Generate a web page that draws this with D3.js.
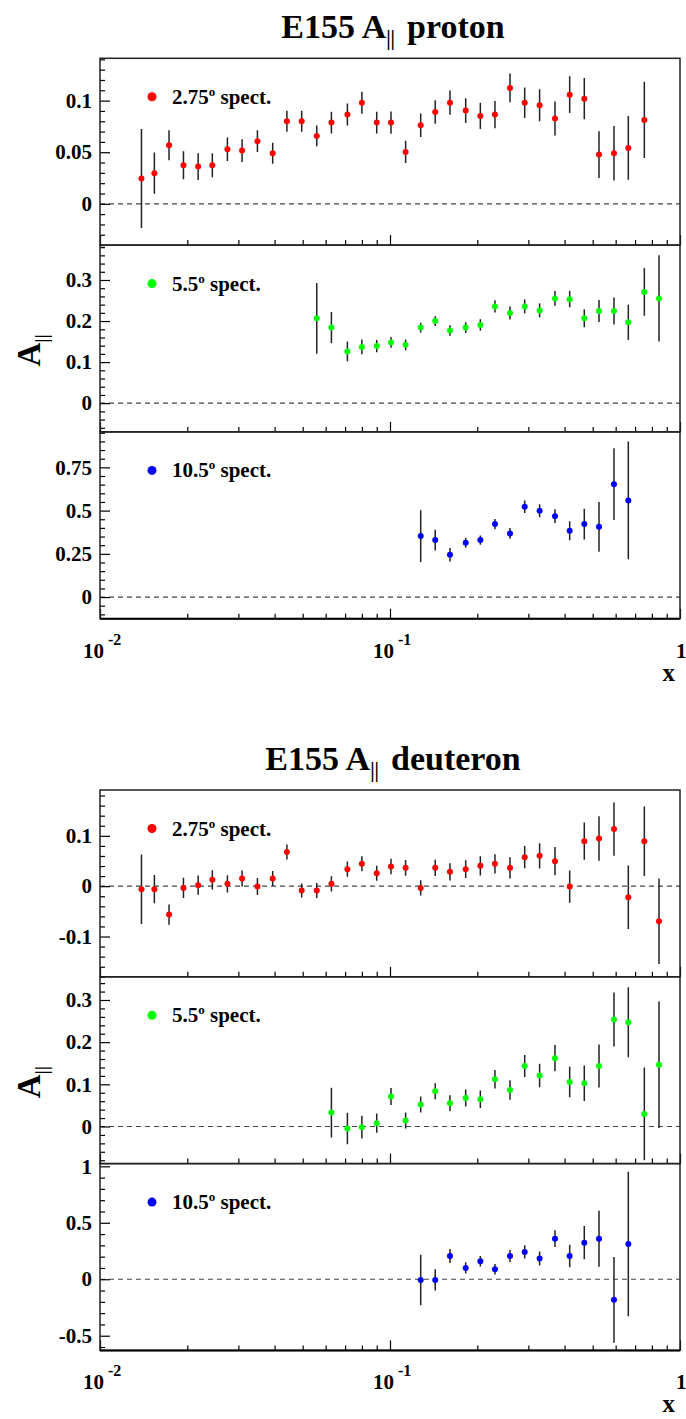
<!DOCTYPE html>
<html>
<head>
<script src="https://d3js.org/d3.v7.min.js"></script>
<style>
  body { margin: 0; background: #fff; }
  text { font-family: "Liberation Serif", "Times New Roman", serif; font-weight: bold; fill: #000; }
</style>
</head>
<body>
<svg width="686" height="1419"></svg>
<script>
// x bins shared by the three spectrometers
const xBins = [0.0139, 0.0154, 0.0173, 0.0194, 0.0218, 0.0244, 0.0275, 0.0309, 0.0349, 0.0394,
  0.0441, 0.0496, 0.0559, 0.0628, 0.0713, 0.0800, 0.0900, 0.1008, 0.1132, 0.1276,
  0.1432, 0.1610, 0.1824, 0.2049, 0.2301, 0.2593, 0.2914, 0.3280, 0.3706, 0.4165,
  0.4677, 0.5257, 0.5920, 0.6634, 0.7534, 0.8465];

// proton
const pA275 = [0.0245, 0.0297, 0.0568, 0.0374, 0.0361, 0.0374, 0.0529, 0.0516, 0.0607, 0.049,
  0.080, 0.080, 0.0658, 0.0787, 0.0865, 0.098, 0.0787, 0.0787, 0.0503, 0.0762,
  0.089, 0.098, 0.0904, 0.0852, 0.0865, 0.1123, 0.098, 0.0955, 0.0826, 0.1058,
  0.1019, 0.0477, 0.049, 0.0542, 0.0813];
const pE275 = [0.048, 0.020, 0.0145, 0.0135, 0.013, 0.0117, 0.0113, 0.011, 0.0105, 0.0102,
  0.0102, 0.0102, 0.0101, 0.0106, 0.0106, 0.0107, 0.0106, 0.0108, 0.0108, 0.0114,
  0.0113, 0.0117, 0.012, 0.0128, 0.0132, 0.014, 0.0148, 0.0155, 0.0165, 0.0177,
  0.020, 0.0227, 0.0265, 0.031, 0.037];
const pA55 = [0.2066, 0.184, 0.126, 0.137, 0.139, 0.148, 0.142, 0.184, 0.200, 0.177,
  0.184, 0.1905, 0.2357, 0.2195, 0.2357, 0.226, 0.255, 0.2534, 0.2066, 0.2245,
  0.2245, 0.197, 0.271, 0.255];
const pE55 = [0.086, 0.038, 0.024, 0.018, 0.015, 0.013, 0.013, 0.012, 0.012, 0.013,
  0.013, 0.014, 0.015, 0.016, 0.017, 0.017, 0.018, 0.02, 0.022, 0.027,
  0.033, 0.043, 0.058, 0.105];
const pA105 = [0.3526, 0.3295, 0.245, 0.314, 0.3295, 0.422, 0.368, 0.522, 0.499, 0.468,
  0.383, 0.422, 0.406, 0.653, 0.559];
const pE105 = [0.15, 0.06, 0.039, 0.029, 0.027, 0.03, 0.031, 0.036, 0.038, 0.04,
  0.055, 0.089, 0.144, 0.207, 0.34];

// deuteron
const dA275 = [-0.006, -0.006, -0.0564, -0.0034, 0.002, 0.0126, 0.0046, 0.0152, -0.0007, 0.0152,
  0.068, -0.0087, -0.0087, 0.0046, 0.0338, 0.0444, 0.0258, 0.039, 0.0364, -0.0034,
  0.0364, 0.0285, 0.0338, 0.0404, 0.0444, 0.0364, 0.0576, 0.0603, 0.0497, -0.0007,
  0.0894, 0.0947, 0.1133, -0.0219, 0.0894, -0.0696];
const dE275 = [0.069, 0.028, 0.02, 0.02, 0.019, 0.019, 0.017, 0.016, 0.017, 0.015,
  0.015, 0.014, 0.015, 0.015, 0.015, 0.015, 0.015, 0.0155, 0.0155, 0.015,
  0.016, 0.017, 0.0175, 0.019, 0.019, 0.021, 0.022, 0.025, 0.028, 0.032,
  0.037, 0.044, 0.053, 0.063, 0.069, 0.085];
const dA55 = [0.033, -0.0047, -0.0016, 0.0079, 0.071, 0.0142, 0.052, 0.0835, 0.055, 0.0677,
  0.0646, 0.112, 0.0866, 0.1434, 0.121, 0.162, 0.1055, 0.1024, 0.1434, 0.2537,
  0.247, 0.0298, 0.1466];
const dE55 = [0.059, 0.0375, 0.027, 0.023, 0.02, 0.019, 0.019, 0.019, 0.019, 0.02,
  0.021, 0.022, 0.023, 0.026, 0.028, 0.031, 0.036, 0.042, 0.051, 0.064,
  0.083, 0.11, 0.15];
const dA105 = [-0.006, -0.006, 0.206, 0.100, 0.159, 0.088, 0.206, 0.242, 0.183, 0.359,
  0.206, 0.324, 0.359, -0.182, 0.312];
const dE105 = [0.224, 0.094, 0.062, 0.05, 0.047, 0.047, 0.053, 0.059, 0.062, 0.074,
  0.1, 0.147, 0.248, 0.38, 0.64];

const spectLabels = ["2.75", "5.5", "10.5"];
const spectColors = ["#ff0000", "#00ff00", "#0000ff"];

const figures = [
  { name: "proton", top: 58.3,
    panels: [
      { vals: pA275, errs: pE275, first: 0, domain: [-0.04, 0.141], ticks: [0, 0.05, 0.1], minor: 0.01 },
      { vals: pA55, errs: pE55, first: 12, domain: [-0.07, 0.385], ticks: [0, 0.1, 0.2, 0.3], minor: 0.02 },
      { vals: pA105, errs: pE105, first: 19, domain: [-0.125, 0.955], ticks: [0, 0.25, 0.5, 0.75], minor: 0.05 }
    ] },
  { name: "deuteron", top: 790,
    panels: [
      { vals: dA275, errs: dE275, first: 0, domain: [-0.18, 0.191], ticks: [-0.1, 0, 0.1], minor: 0.02 },
      { vals: dA55, errs: dE55, first: 13, domain: [-0.088, 0.355], ticks: [0, 0.1, 0.2, 0.3], minor: 0.02 },
      { vals: dA105, errs: dE105, first: 19, domain: [-0.63, 1.024], ticks: [-0.5, 0, 0.5, 1], minor: 0.1 }
    ] }
];

const svg = d3.select("svg");
const left = 100, right = 680, panelH = 186.8;

const x = d3.scaleLog().domain([0.01, 1]).range([left, right]);
const xMajor = [0.01, 0.1, 1];
const xMinor = [];
[0.01, 0.1].forEach(d => { for (let k = 2; k <= 9; k++) xMinor.push(d * k); });

figures.forEach((fig, fi) => {
  const g = svg.append("g");

  // title
  const title = g.append("text")
    .attr("x", 393).attr("y", fig.top - 20)
    .attr("text-anchor", "middle")
    .style("font-size", "34px");
  title.append("tspan").text("E155 A");
  title.append("tspan").attr("dy", 7).style("font-size", "20px").text("||");
  title.append("tspan").attr("dy", -7).attr("dx", 12).text(fig.name);

  fig.panels.forEach((p, pi) => {
    const top = fig.top + pi * panelH;
    const bottom = top + panelH;
    const y = d3.scaleLinear().domain(p.domain).range([bottom, top]);
    const pg = g.append("g");

    const clipId = "clip" + fi + pi;
    pg.append("clipPath").attr("id", clipId)
      .append("rect").attr("x", left).attr("y", top)
      .attr("width", right - left).attr("height", panelH);

    // zero line
    pg.append("line")
      .attr("x1", left).attr("x2", right)
      .attr("y1", y(0)).attr("y2", y(0))
      .attr("stroke", "#444").attr("stroke-width", 1.2)
      .attr("stroke-dasharray", "5,4");

    // y axis ticks
    const minorTicks = d3.range(Math.ceil(p.domain[0] / p.minor), Math.floor(p.domain[1] / p.minor) + 1)
      .map(k => +(k * p.minor).toFixed(4))
      .filter(v => !p.ticks.some(t => Math.abs(t - v) < 1e-6));
    const yMinorAxis = pg.append("g").attr("transform", `translate(${left},0)`)
      .call(d3.axisRight(y).tickValues(minorTicks).tickSize(5).tickFormat(""));
    const yMajorAxis = pg.append("g").attr("transform", `translate(${left},0)`)
      .call(d3.axisRight(y).tickValues(p.ticks).tickSize(10).tickFormat(""));
    const yLabels = pg.append("g").attr("transform", `translate(${left},0)`)
      .call(d3.axisLeft(y).tickValues(p.ticks).tickSize(0).tickPadding(8).tickFormat(d => String(d)));
    [yMinorAxis, yMajorAxis, yLabels].forEach(a => a.select(".domain").remove());
    pg.selectAll(".tick line").attr("stroke", "#000").attr("stroke-width", 1.2);
    yLabels.selectAll("text").style("font-size", "21px")
      .style("font-family", '"Liberation Serif", serif').style("font-weight", "bold");

    // x axis ticks (pointing up at panel bottom)
    const xa1 = pg.append("g").attr("transform", `translate(0,${bottom})`)
      .call(d3.axisTop(x).tickValues(xMinor).tickSize(5).tickFormat(""));
    const xa2 = pg.append("g").attr("transform", `translate(0,${bottom})`)
      .call(d3.axisTop(x).tickValues(xMajor).tickSize(10).tickFormat(""));
    [xa1, xa2].forEach(a => {
      a.select(".domain").remove();
      a.selectAll(".tick line").attr("stroke", "#000").attr("stroke-width", 1.2);
    });

    // frame
    pg.append("rect")
      .attr("x", left).attr("y", top)
      .attr("width", right - left).attr("height", panelH)
      .attr("fill", "none").attr("stroke", "#222").attr("stroke-width", 1.5);

    // data
    const pts = p.vals.map((v, i) => ({ x: xBins[p.first + i], v: v, e: p.errs[i] }));
    const dg = pg.append("g").attr("clip-path", `url(#${clipId})`);
    dg.selectAll("line.err").data(pts).join("line")
      .attr("class", "err")
      .attr("x1", d => x(d.x)).attr("x2", d => x(d.x))
      .attr("y1", d => y(d.v - d.e)).attr("y2", d => y(d.v + d.e))
      .attr("stroke", "#222").attr("stroke-width", 1.5);
    dg.selectAll("circle").data(pts).join("circle")
      .attr("cx", d => x(d.x)).attr("cy", d => y(d.v))
      .attr("r", 3).attr("fill", spectColors[pi]);

    // legend
    const ly = top + 38.5;
    pg.append("circle").attr("cx", 152).attr("cy", ly).attr("r", 4.5).attr("fill", spectColors[pi]);
    const lt = pg.append("text").attr("x", 172).attr("y", ly + 7).style("font-size", "21px");
    lt.append("tspan").text(spectLabels[pi]);
    lt.append("tspan").attr("dy", -8).style("font-size", "13px").text("o");
    lt.append("tspan").attr("dy", 8).text(" spect.");
  });

  const axisBottom = fig.top + 3 * panelH;
  svg.append("line").attr("x1", left).attr("x2", right)
    .attr("y1", axisBottom).attr("y2", axisBottom)
    .attr("stroke", "#000").attr("stroke-width", 2);

  // x tick labels
  const xl = [["10", "-2", 0.01], ["10", "-1", 0.1], ["1", "", 1]];
  xl.forEach(([base, exp, v]) => {
    const t = svg.append("text")
      .attr("x", exp ? x(v) - 17 : x(v) - 4)
      .attr("y", axisBottom + 39)
      .style("font-size", "21px");
    t.append("tspan").text(base);
    if (exp) t.append("tspan").attr("dx", 4).attr("dy", -13).style("font-size", "16px").text(exp);
  });
  svg.append("text").attr("x", 675).attr("y", axisBottom + 62)
    .attr("text-anchor", "end").style("font-size", "25px").text("x");

  // y title
  const midY = fig.top + 1.5 * panelH + 12;
  const yt = svg.append("text")
    .attr("transform", `translate(40,${midY}) rotate(-90)`)
    .attr("text-anchor", "middle")
    .style("font-size", "33px");
  yt.append("tspan").text("A");
  yt.append("tspan").attr("dy", 8).style("font-size", "19px").text("||");
});
</script>
</body>
</html>
